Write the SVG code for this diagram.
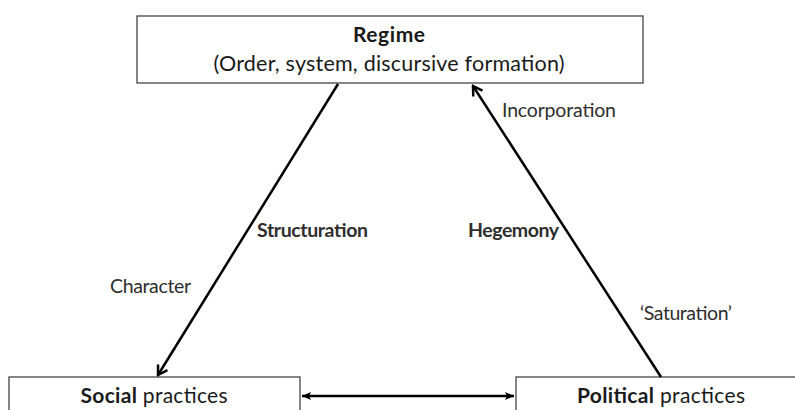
<svg xmlns="http://www.w3.org/2000/svg" width="795" height="410" viewBox="0 0 795 410">
<style>
.box{fill:#fff;stroke:#444;stroke-width:1.3}
.t{font-family:Lato,"Open Sans","Liberation Sans",sans-serif;fill:#1a1a1a}
.b{font-weight:bold}
.lbl{font-family:Lato,"Open Sans","Liberation Sans",sans-serif;fill:#2e2e2e;font-size:19.5px}
.conn{stroke:#000;stroke-width:2.5;fill:none}
</style>
<defs>
<marker id="chev" markerUnits="userSpaceOnUse" viewBox="0 0 14 14" refX="12" refY="7" markerWidth="14" markerHeight="14" orient="auto-start-reverse">
<path d="M3,1.5 L12,7 L3,12.5" fill="none" stroke="#000" stroke-width="2.5" stroke-linejoin="miter"/>
</marker>
<marker id="tri" markerUnits="userSpaceOnUse" viewBox="0 0 10 10" refX="9" refY="5" markerWidth="10" markerHeight="10" orient="auto-start-reverse">
<path d="M0,1 L9,5 L0,9 L2,5 Z" fill="#000"/>
</marker>
</defs>
<rect width="795" height="410" fill="#fff"/>
<g id="regime">
<rect class="box" x="137" y="16" width="506" height="67"/>
<text class="t b" x="389" y="42" font-size="21" text-anchor="middle" textLength="72">Regime</text>
<text class="t" x="389" y="71" font-size="21.5" text-anchor="middle" textLength="351">(Order, system, discursive formation)</text>
</g>
<g id="social">
<rect class="box" x="9" y="377" width="291" height="40"/>
<text class="t" x="154" y="403" font-size="21" text-anchor="middle" textLength="147"><tspan class="b">Social</tspan> practices</text>
</g>
<g id="political">
<rect class="box" x="516" y="377" width="290" height="40"/>
<text class="t" x="661" y="403" font-size="21" text-anchor="middle" textLength="168"><tspan class="b">Political</tspan> practices</text>
</g>
<g id="connectors">
<line class="conn" x1="338" y1="84" x2="158" y2="375" marker-end="url(#chev)"/>
<line class="conn" x1="661" y1="377" x2="473" y2="86" marker-end="url(#chev)"/>
<line class="conn" stroke-width="2" x1="302" y1="396" x2="514" y2="396" marker-start="url(#tri)" marker-end="url(#tri)"/>
</g>
<g id="labels">
<text class="lbl" x="502" y="117" textLength="114">Incorporation</text>
<text class="lbl b" x="257" y="237" textLength="111">Structuration</text>
<text class="lbl" x="110" y="293" textLength="81">Character</text>
<text class="lbl b" x="468" y="237" textLength="91">Hegemony</text>
<text class="lbl" x="640" y="320" textLength="92">‘Saturation’</text>
</g>
</svg>
